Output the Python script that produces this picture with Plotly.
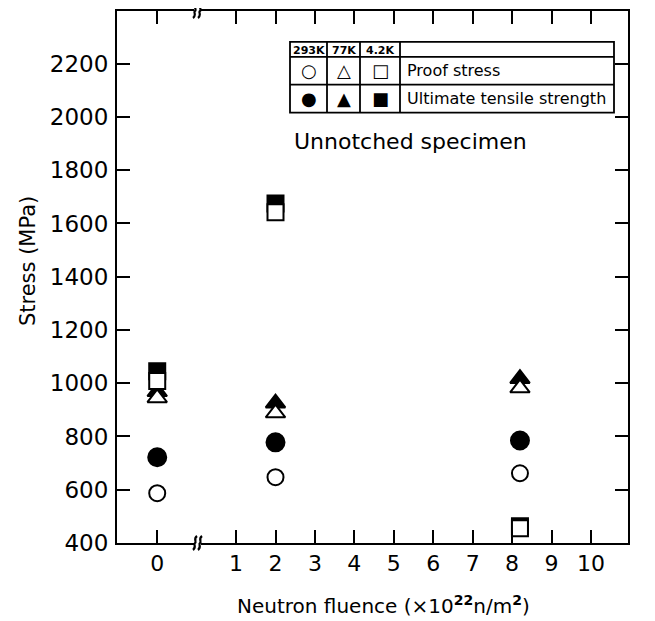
import plotly.graph_objects as go

# ---- data ----
FLUENCE = [0, 2, 8.2]                 # x10^22 n/m^2
PROOF_293K = [587, 647, 662]          # open circles
UTS_293K = [722, 778, 785]            # filled circles
PROOF_77K = [945, 888, 982]           # open triangles
UTS_77K = [968, 925, 1017]            # filled triangles
PROOF_4K = [1008, 1642, 455]          # open squares
UTS_4K = [1045, 1675, 463]            # filled squares

X_TICK_VALUES = [0, 1, 2, 3, 4, 5, 6, 7, 8, 9, 10]
Y_TICK_VALUES = [400, 600, 800, 1000, 1200, 1400, 1600, 1800, 2000, 2200]

TEMPS = ["293K", "77K", "4.2K"]
ROW_LABELS = ["Proof stress", "Ultimate tensile strength"]


def axis_pos(f):
    """Broken x axis: the zero point is drawn one unit left of the break."""
    return f - 1 if f < 1 else f


XPOS = [axis_pos(f) for f in FLUENCE]

# page offset of the figure inside the browser window (body margin)
OFF = 8
W, H = 655 - OFF, 621 - OFF
# plot frame in window pixels: left 117, right 628, top 9, bottom 543
FL, FR, FT, FB = 117, 628, 9, 543
ML, MR, MT, MB = FL - OFF, W - (FR - OFF), FT - OFF, H - (FB - OFF)
PW, PH = FR - FL, FB - FT


def px(x):
    return (x - FL) / PW


def py(y):
    return (FB - y) / PH


FONT = "DejaVu Sans"
fig = go.Figure()


def add(vals, symbol, filled, size):
    fig.add_trace(go.Scatter(
        x=XPOS, y=vals, mode="markers", showlegend=False, hoverinfo="skip",
        marker=dict(symbol=symbol, size=size,
                    color="black" if filled else "white",
                    line=dict(color="black", width=2)),
    ))


add(UTS_77K, "triangle-up", True, 17)
add(UTS_4K, "square", True, 16)
add(PROOF_77K, "triangle-up", False, 17)
add(PROOF_4K, "square", False, 16)
add(UTS_293K, "circle", True, 18)
add(PROOF_293K, "circle", False, 16)

fig.update_xaxes(
    range=[-2.02, 10.94],
    tickvals=[axis_pos(v) for v in X_TICK_VALUES],
    ticktext=[str(v) for v in X_TICK_VALUES],
    ticks="inside", ticklen=13, tickwidth=2, tickcolor="black",
    showline=True, linewidth=2, linecolor="black", mirror="ticks",
    showgrid=False, zeroline=False,
    tickfont=dict(family=FONT, size=22, color="black"),
    ticklabelstandoff=0,
)
fig.update_yaxes(
    range=[400, 2398],
    tickvals=Y_TICK_VALUES,
    ticks="inside", ticklen=13, tickwidth=2, tickcolor="black",
    showline=True, linewidth=2, linecolor="black", mirror="ticks",
    showgrid=False, zeroline=False,
    tickfont=dict(family=FONT, size=23, color="black"),
    ticklabelstandoff=2,
)

shapes = []
annotations = []

# axis break marks on bottom and top frame
for yb in (0, 1):
    shapes.append(dict(type="rect", xref="paper", yref="paper",
                       x0=px(194), x1=px(201), y0=yb - 0.006, y1=yb + 0.006,
                       fillcolor="white", line=dict(width=0), layer="above"))
    for dx in (-2.5, 2.5):
        shapes.append(dict(
            type="path", xref="paper", yref="paper",
            xsizemode="pixel", ysizemode="pixel",
            xanchor=px(197.5 + dx), yanchor=yb,
            path="M -2,-7 C 2,-4 -2,-1 0,0 C 2,1 -2,4 2,7",
            line=dict(color="black", width=2.2), layer="above"))

# legend table
LX = [290, 327, 360, 400, 614]
LY = [40, 55, 83, 111]
shapes.append(dict(type="rect", xref="paper", yref="paper",
                   x0=px(LX[0]), x1=px(LX[-1]), y0=py(LY[-1]), y1=py(LY[0]),
                   line=dict(color="black", width=1.8), fillcolor="white",
                   layer="above"))
for yl in LY[1:-1]:
    shapes.append(dict(type="line", xref="paper", yref="paper",
                       x0=px(LX[0]), x1=px(LX[-1]), y0=py(yl), y1=py(yl),
                       line=dict(color="black", width=1.8), layer="above"))
for xl in LX[1:-1]:
    shapes.append(dict(type="line", xref="paper", yref="paper",
                       x0=px(xl), x1=px(xl), y0=py(LY[-1]), y1=py(LY[0]),
                       line=dict(color="black", width=1.8), layer="above"))


def note(x, y, text, size, xanchor="center", angle=0):
    annotations.append(dict(xref="paper", yref="paper", x=px(x), y=py(y),
                            xanchor=xanchor, yanchor="middle", text=text,
                            textangle=angle, showarrow=False,
                            font=dict(family=FONT, size=size, color="black")))


for i, t in enumerate(TEMPS):
    note((LX[i] + LX[i + 1]) / 2, (LY[0] + LY[1]) / 2 + 1, "<b>%s</b>" % t, 11)
GLYPHS = [["○", "△", "□"], ["●", "▲", "■"]]
for r in range(2):
    yc = (LY[r + 1] + LY[r + 2]) / 2
    for c in range(3):
        note((LX[c] + LX[c + 1]) / 2, yc, GLYPHS[r][c], 18)
    note(LX[3] + 5, yc, ROW_LABELS[r], 16, xanchor="left")

note(410, 140, "Unnotched specimen", 22)
note(383, 605, "Neutron fluence (×10<sup><b>22</b></sup>n/m<sup><b>2</b></sup>)", 20)
note(28, 260, "Stress (MPa)", 21, angle=-90)

fig.update_layout(
    width=W, height=H,
    margin=dict(l=ML, r=MR, t=MT, b=MB),
    paper_bgcolor="white", plot_bgcolor="white",
    shapes=shapes, annotations=annotations,
)

fig.write_html("out.html")
